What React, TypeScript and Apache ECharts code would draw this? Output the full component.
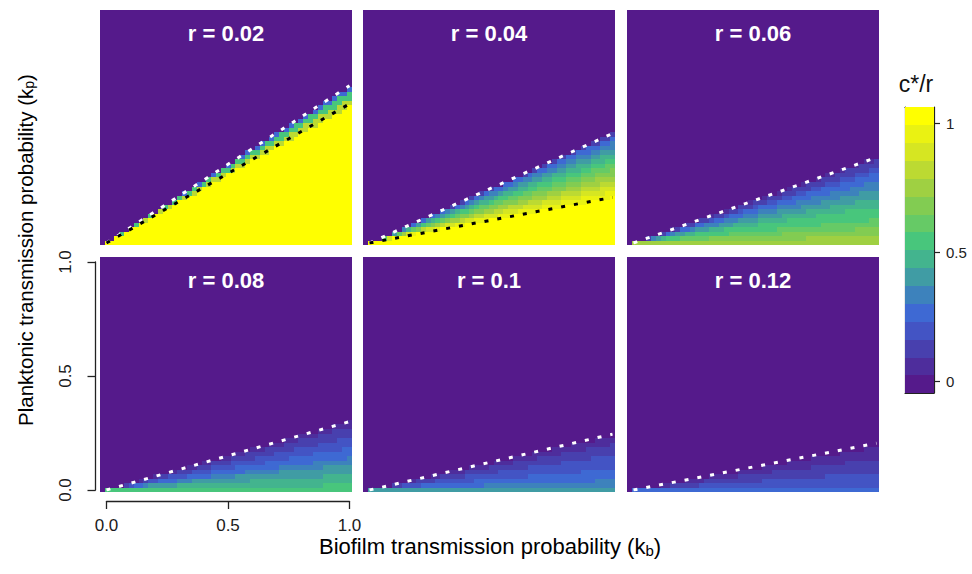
import React, { useEffect, useRef } from "react";
import * as echarts from "echarts";

// ---------------- data ----------------
const rValues = [0.02, 0.04, 0.06, 0.08, 0.1, 0.12];
// white dotted boundary: kp = slope * kb
const whiteSlopes = [0.69, 0.48, 0.375, 0.3, 0.245, 0.205];
// black dotted line (only first two panels): kp = slope * kb
const blackSlopes: (number | null)[] = [0.61, 0.2, null, null, null, null];

// c*/r read across each wedge at u = kp / (whiteSlope * kb) = 0, 0.05, ..., 1
const profileR002 = [1, 1, 1, 1, 1, 1, 1, 1, 1, 1, 1, 1, 1, 1, 1, 1, 1, 1, 0.8, 0.55, 0.3];
const profileR004 = [1, 1, 1, 1, 1, 1, 1, 1, 1, 0.97, 0.9, 0.84, 0.77, 0.7, 0.63, 0.56, 0.49, 0.42, 0.34, 0.25, 0.13];
const profileR006 = [0.75, 0.73, 0.7, 0.67, 0.64, 0.6, 0.57, 0.54, 0.51, 0.48, 0.45, 0.42, 0.39, 0.36, 0.32, 0.29, 0.25, 0.21, 0.16, 0.11, 0.05];
const profileR008 = [0.55, 0.53, 0.5, 0.48, 0.45, 0.43, 0.4, 0.38, 0.35, 0.33, 0.3, 0.28, 0.26, 0.23, 0.21, 0.18, 0.16, 0.13, 0.1, 0.07, 0.03];
const profileR010 = [0.38, 0.36, 0.33, 0.31, 0.29, 0.27, 0.26, 0.24, 0.23, 0.21, 0.2, 0.18, 0.17, 0.15, 0.14, 0.12, 0.1, 0.08, 0.06, 0.04, 0.02];
const profileR012 = [0.26, 0.25, 0.23, 0.22, 0.2, 0.19, 0.18, 0.17, 0.16, 0.14, 0.13, 0.12, 0.11, 0.1, 0.08, 0.07, 0.06, 0.05, 0.03, 0.02, 0.01];
const profiles = [profileR002, profileR004, profileR006, profileR008, profileR010, profileR012];

// grid of the image (step 0.02)
const gridStep = 0.02;
const kbValues = Array.from({ length: 52 }, (_, k) => +((k - 1) * gridStep).toFixed(2)); // -0.02 .. 1.00
const kpValues = Array.from({ length: 52 }, (_, j) => +(j * gridStep).toFixed(2)); // 0 .. 1.02

const axisTicks = [0, 0.5, 1];
const colorbarTicks = [0, 0.5, 1];

// colour scale (16 bins)
const binColors = [
  "#551a8b", "#4e2d9c", "#4840ae", "#4354c4", "#3e69d3", "#3d82bc", "#409ca4", "#43b48e",
  "#48c67c", "#66ca66", "#82cc52", "#9fd042", "#bcda32", "#d6e622", "#eaf212", "#ffff00",
];
const colorMin = -0.045;
const colorMax = 1.065;

// ---------------- layout ----------------
const FONT = '"Liberation Sans", Arial, Helvetica, sans-serif';
const colLefts = [100, 363, 627];
const rowTops = [10, 257];
const panelW = 252;
const panelH = 235;
const dataInsetLeft = 6.5;
const dataInsetTop = 5;
const dataW = 243;
const dataH = 228;
const cbLeft = 905;
const cbTop = 107;
const cbW = 29;
const cbH = 286;

function panelCells(p: number) {
  const s = whiteSlopes[p];
  const prof = profiles[p];
  const out: number[][] = [];
  kbValues.forEach((kb, i) => {
    kpValues.forEach((kp, j) => {
      let v = 0;
      if (kb >= 0 && kp <= s * kb + 1e-9) {
        const u = kb > 0 ? kp / (s * kb) : 0;
        v = prof[Math.round(u * (prof.length - 1))];
      }
      out.push([i, j, v]);
    });
  });
  return out;
}

function buildOption() {
  const grids: any[] = [];
  const xAxes: any[] = [];
  const yAxes: any[] = [];
  const heatSeries: any[] = [];
  const lineSeries: any[] = [];
  const graphics: any[] = [];

  const axisColor = "#222";

  rValues.forEach((r, p) => {
    const c = p % 3;
    const row = Math.floor(p / 3);
    const left = colLefts[c];
    const top = rowTops[row];

    // heatmap grid
    grids.push({
      left,
      top,
      width: panelW,
      height: panelH,
      show: true,
      backgroundColor: binColors[0],
      borderWidth: 0,
    });
    const hg = grids.length - 1;
    xAxes.push({ type: "category", gridIndex: hg, data: kbValues.map(String), show: false });
    const hx = xAxes.length - 1;
    yAxes.push({ type: "category", gridIndex: hg, data: kpValues.map(String), show: false });
    const hy = yAxes.length - 1;
    heatSeries.push({
      type: "heatmap",
      xAxisIndex: hx,
      yAxisIndex: hy,
      data: panelCells(p),
      silent: true,
      progressive: 0,
      itemStyle: { borderWidth: 0 },
      emphasis: { disabled: true },
    });

    // value grid (0..1 in data units)
    grids.push({
      left: left + dataInsetLeft,
      top: top + dataInsetTop,
      width: dataW,
      height: dataH,
      show: false,
    });
    const vg = grids.length - 1;
    const showAxes = p === 3;
    xAxes.push({
      type: "value",
      gridIndex: vg,
      min: 0,
      max: 1,
      interval: 0.5,
      show: showAxes,
      position: "bottom",
      offset: 11,
      axisLine: { show: true, onZero: false, lineStyle: { color: axisColor, width: 1.3 } },
      axisTick: { show: true, length: 8, lineStyle: { color: axisColor, width: 1.3 } },
      axisLabel: {
        show: true,
        formatter: (v: number) => (axisTicks.includes(v) ? v.toFixed(1) : ""),
        fontSize: 17,
        fontFamily: FONT,
        color: "#1a1a1a",
        margin: 16,
      },
      splitLine: { show: false },
    });
    const vx = xAxes.length - 1;
    yAxes.push({
      type: "value",
      gridIndex: vg,
      min: 0,
      max: 1,
      interval: 0.5,
      show: showAxes,
      position: "left",
      offset: 11,
      axisLine: { show: true, onZero: false, lineStyle: { color: axisColor, width: 1.3 } },
      axisTick: { show: true, length: 8, lineStyle: { color: axisColor, width: 1.3 } },
      axisLabel: {
        show: true,
        rotate: 90,
        formatter: (v: number) => (axisTicks.includes(v) ? v.toFixed(1) : ""),
        fontSize: 17,
        fontFamily: FONT,
        color: "#1a1a1a",
        margin: 22,
      },
      splitLine: { show: false },
    });
    const vy = yAxes.length - 1;

    lineSeries.push({
      type: "line",
      xAxisIndex: vx,
      yAxisIndex: vy,
      data: [[0, 0], [1, whiteSlopes[p]]],
      symbol: "none",
      silent: true,
      z: 5,
      lineStyle: { color: "#ffffff", width: 3, type: [4, 9], cap: "butt" },
    });
    const b = blackSlopes[p];
    if (b !== null) {
      lineSeries.push({
        type: "line",
        xAxisIndex: vx,
        yAxisIndex: vy,
        data: [[0, 0], [1, b]],
        symbol: "none",
        silent: true,
        z: 5,
        lineStyle: { color: "#000000", width: 3, type: [4, 9], cap: "butt" },
      });
    }

    graphics.push({
      type: "text",
      x: left + panelW / 2,
      y: top + 23.5,
      z: 100,
      silent: true,
      style: {
        text: `r = ${r}`,
        fill: "#ffffff",
        fontSize: 22,
        fontWeight: "bold",
        fontFamily: FONT,
        align: "center",
        verticalAlign: "middle",
        textAlign: "center",
        textVerticalAlign: "middle",
      },
    });
  });

  // colour bar
  const binWidth = (colorMax - colorMin) / binColors.length;
  const binValues = binColors.map((_, i) => colorMin + (i + 0.5) * binWidth);
  grids.push({ left: cbLeft, top: cbTop, width: cbW, height: cbH, show: false });
  const cg = grids.length - 1;
  const cbLine = { show: true, onZero: false, lineStyle: { color: axisColor, width: 1.2 } };
  xAxes.push({
    type: "category",
    gridIndex: cg,
    data: ["c"],
    position: "bottom",
    axisLine: cbLine,
    axisTick: { show: false },
    axisLabel: { show: false },
    splitLine: { show: false },
  });
  const cx = xAxes.length - 1;
  xAxes.push({
    type: "category",
    gridIndex: cg,
    data: ["c"],
    position: "top",
    axisLine: cbLine,
    axisTick: { show: false },
    axisLabel: { show: false },
    splitLine: { show: false },
  });
  yAxes.push({
    type: "category",
    gridIndex: cg,
    data: binValues.map((_, i) => String(i)),
    position: "left",
    axisLine: cbLine,
    axisTick: { show: false },
    axisLabel: { show: false },
    splitLine: { show: false },
  });
  const cy = yAxes.length - 1;
  yAxes.push({
    type: "value",
    gridIndex: cg,
    min: colorMin,
    max: colorMax,
    position: "right",
    axisLine: cbLine,
    axisTick: { show: true, length: 6, customValues: colorbarTicks, lineStyle: { color: axisColor, width: 1.2 } },
    axisLabel: {
      show: true,
      customValues: colorbarTicks,
      formatter: (v: number) => String(v),
      fontSize: 15,
      fontFamily: FONT,
      color: "#222",
      margin: 12,
    },
    splitLine: { show: false },
  });
  heatSeries.push({
    type: "heatmap",
    xAxisIndex: cx,
    yAxisIndex: cy,
    data: binValues.map((v, i) => [0, i, v]),
    silent: true,
    progressive: 0,
    emphasis: { disabled: true },
  });

  const pieces = binColors.map((color, i) => {
    const lo = colorMin + i * binWidth;
    const hi = lo + binWidth;
    const piece: any = { color };
    if (i > 0) piece.gte = lo;
    if (i < binColors.length - 1) piece.lt = hi;
    return piece;
  });

  graphics.push({
    type: "text",
    x: 916,
    y: 84,
    z: 100,
    silent: true,
    style: {
      text: "c*/r",
      fill: "#111",
      fontSize: 23,
      fontFamily: FONT,
      align: "center",
      verticalAlign: "middle",
      textAlign: "center",
      textVerticalAlign: "middle",
    },
  });
  graphics.push({
    type: "text",
    x: 490,
    y: 546,
    z: 100,
    silent: true,
    style: {
      text: "{a|Biofilm transmission probability (k}{s|b}{a|)}",
      rich: {
        a: { fontSize: 22, fontFamily: FONT, color: "#111" },
        s: { fontSize: 15, fontFamily: FONT, color: "#111", padding: [8, 0, 0, 0] },
      },
      align: "center",
      verticalAlign: "middle",
      textAlign: "center",
      textVerticalAlign: "middle",
    },
  });
  graphics.push({
    type: "text",
    x: 25,
    y: 250,
    rotation: Math.PI / 2,
    z: 100,
    silent: true,
    style: {
      text: "{a|Planktonic transmission probability (k}{s|p}{a|)}",
      rich: {
        a: { fontSize: 20.5, fontFamily: FONT, color: "#111" },
        s: { fontSize: 14, fontFamily: FONT, color: "#111", padding: [8, 0, 0, 0] },
      },
      align: "center",
      verticalAlign: "middle",
      textAlign: "center",
      textVerticalAlign: "middle",
    },
  });

  return {
    animation: false,
    backgroundColor: "#ffffff",
    grid: grids,
    xAxis: xAxes,
    yAxis: yAxes,
    visualMap: {
      type: "piecewise",
      show: false,
      seriesIndex: heatSeries.map((_, i) => i),
      pieces,
    },
    series: [...heatSeries, ...lineSeries],
    graphic: { elements: graphics },
  };
}

export default function App() {
  const ref = useRef<HTMLDivElement>(null);
  useEffect(() => {
    if (!ref.current) return;
    const chart = echarts.init(ref.current, null, { renderer: "svg" });
    chart.setOption(buildOption() as any);
    return () => chart.dispose();
  }, []);
  return (
    <>
      <style>{`#heat-chart svg path:not([fill="none"]) { shape-rendering: crispEdges; }`}</style>
      <div
        id="heat-chart"
        ref={ref}
        style={{ position: "fixed", left: 0, top: 0, width: 972, height: 574 }}
      />
    </>
  );
}
